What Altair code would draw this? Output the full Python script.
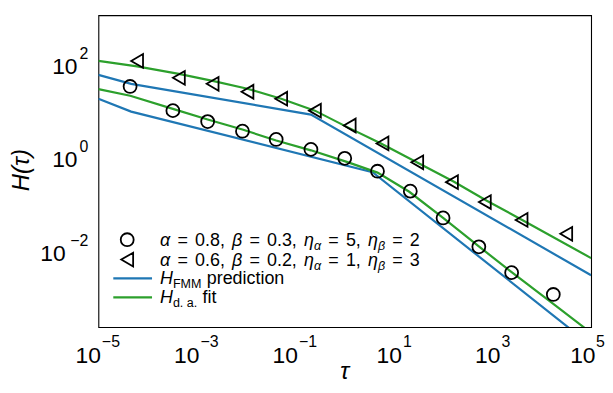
import altair as alt
import pandas as pd

# ---------------- data ----------------
CIRCLE_TAU = [4.4e-5, 3.25e-4, 1.65e-3, 8.4e-3, 4.06e-2, 0.206, 1.0, 4.62, 21.4, 99.0, 527.0, 2440.0, 17100.0]
CIRCLE_H = [29.8, 9.06, 5.28, 3.29, 2.19, 1.34, 0.863, 0.457, 0.171, 0.0457, 0.0110, 0.00308, 0.00105]

TRI_TAU = [6.1e-5, 4.3e-4, 2.08e-3, 1.06e-2, 5.13e-2, 0.248, 1.26, 5.83, 29.6, 150.0, 697.0, 3880.0, 31300.0]
TRI_H = [105.0, 45.7, 34.0, 23.0, 16.3, 9.06, 4.35, 1.80, 0.71, 0.267, 0.100, 0.0414, 0.0209]

FMM1_TAU = [1e-5, 4.62e-5, 3.67, 1e5]
FMM1_H = [16.3, 8.63, 0.435, 8.5e-5]
FMM2_TAU = [1e-5, 4.62e-5, 0.206, 1e5]
FMM2_H = [52.8, 34.0, 7.45, 2.71e-3]

DA1_TAU = [1e-5, 4.42e-5, 3.25e-4, 1.65e-3, 8.38e-3, 4.06e-2, 0.206, 1.10, 4.62, 20.4, 99.1, 527.0, 2440.0, 17100.0, 1e5]
DA1_H = [26.2, 18.9, 9.86, 5.83, 3.57, 2.08, 1.28, 0.724, 0.427, 0.166, 0.0457, 0.0112, 0.00316, 0.000661, 0.000158]
DA2_TAU = [1e-5, 6.11e-5, 4.30e-4, 2.08e-3, 1.06e-2, 5.13e-2, 0.248, 1.10, 5.32, 29.6, 165.0, 764.0, 4260.0, 1e5]
DA2_H = [105.0, 80.4, 55.6, 39.4, 26.7, 16.3, 9.06, 4.07, 1.82, 0.700, 0.272, 0.107, 0.0398, 0.00631]

X_TICKS = [1e-5, 1e-3, 1e-1, 1e1, 1e3, 1e5]
X_EXP = ["\u22125", "\u22123", "\u22121", "1", "3", "5"]
Y_TICKS = [1e2, 1e0, 1e-2]
Y_EXP = ["2", "0", "\u22122"]

ROW1 = ["\u03b1", "=", "0.8,", "\u03b2", "=", "0.3,", "\u03b7", "\u03b1", "=", "5,", "\u03b7", "\u03b2", "=", "2"]
ROW2 = ["\u03b1", "=", "0.6,", "\u03b2", "=", "0.2,", "\u03b7", "\u03b1", "=", "1,", "\u03b7", "\u03b2", "=", "3"]
ROW3 = ["H", "FMM", "prediction"]
ROW4 = ["H", "d. a.", "fit"]

# ---------------- styling ----------------
FONT = "Liberation Sans"
BLUE = "#1f77b4"
GREEN = "#2ca02c"
W, H = 496, 314
xs = alt.Scale(type="log", domain=[1e-5, 1e5], nice=False)
ys = alt.Scale(type="log", domain=[2.1e-4, 1e3], nice=False)

one = alt.Data(values=[{"k": 0}])


def frame(tau, h, name, kind):
    return pd.DataFrame({"tau": tau, "H": h, "series": name, "kind": kind})


lines_df = pd.concat([
    frame(FMM1_TAU, FMM1_H, "fmm1", "fmm"),
    frame(FMM2_TAU, FMM2_H, "fmm2", "fmm"),
    frame(DA1_TAU, DA1_H, "da1", "da"),
    frame(DA2_TAU, DA2_H, "da2", "da"),
])

lines = alt.Chart(lines_df).mark_line(strokeWidth=2.2, clip=True).encode(
    x=alt.X("tau:Q", scale=xs, axis=alt.Axis(values=X_TICKS, labels=False, title=None, tickSize=5,
                                               tickWidth=1, tickColor="black", domain=False, grid=False)),
    y=alt.Y("H:Q", scale=ys, axis=alt.Axis(values=Y_TICKS, labels=False, title=None, tickSize=5,
                                             tickWidth=1, tickColor="black", domain=False, grid=False)),
    color=alt.Color("kind:N", scale=alt.Scale(domain=["fmm", "da"], range=[BLUE, GREEN]), legend=None),
    detail="series:N",
)

circ = alt.Chart(pd.DataFrame({"tau": CIRCLE_TAU, "H": CIRCLE_H})).mark_point(
    shape="circle", filled=False, color="black", strokeWidth=1.8, size=170, clip=True, opacity=1
).encode(x=alt.X("tau:Q", scale=xs, axis=None), y=alt.Y("H:Q", scale=ys, axis=None))

tri = alt.Chart(pd.DataFrame({"tau": TRI_TAU, "H": TRI_H})).mark_point(
    shape="triangle-left", filled=False, color="black", strokeWidth=1.8, size=190, clip=True, opacity=1
).encode(x=alt.X("tau:Q", scale=xs, axis=None), y=alt.Y("H:Q", scale=ys, axis=None))


# ---------------- tick labels (10 with superscript) ----------------
def xlabels(sel, dx10, dxe):
    df = pd.DataFrame({"v": [X_TICKS[i] for i in sel], "e": [X_EXP[i] for i in sel]})
    base = alt.Chart(df)
    ten = base.mark_text(text="10", align="right", baseline="alphabetic", font=FONT, fontSize=23,
                         dx=dx10, color="black").encode(
        x=alt.X("v:Q", scale=xs, axis=None), y=alt.value(H + 36))
    sup = base.mark_text(align="left", baseline="alphabetic", font=FONT, fontSize=16,
                         dx=dxe, color="black").encode(
        x=alt.X("v:Q", scale=xs, axis=None), y=alt.value(H + 20), text="e:N")
    return [ten, sup]


def ylabels(sel, x10):
    df = pd.DataFrame({"v": [Y_TICKS[i] for i in sel], "e": [Y_EXP[i] for i in sel]})
    base = alt.Chart(df)
    ten = base.mark_text(text="10", align="right", baseline="alphabetic", font=FONT, fontSize=23,
                         dy=12, color="black").encode(
        y=alt.Y("v:Q", scale=ys, axis=None), x=alt.value(x10))
    sup = base.mark_text(align="right", baseline="alphabetic", font=FONT, fontSize=16,
                         dy=-3, color="black").encode(
        y=alt.Y("v:Q", scale=ys, axis=None), x=alt.value(-10), text="e:N")
    return [ten, sup]


tick_layers = (xlabels([0, 1, 2], 2.5, 3.5) + xlabels([3, 4], 8, 9) + xlabels([5], 4.5, 5)
               + ylabels([0, 1], -21) + ylabels([2], -33))


def txt(s, x, y, size, italic=False, align="left", angle=0):
    kw = dict(text=s, align=align, baseline="alphabetic", font=FONT, fontSize=size,
              fontStyle="italic" if italic else "normal", color="black")
    if angle:
        kw["angle"] = angle
    return alt.Chart(one).mark_text(**kw).encode(x=alt.value(x), y=alt.value(y))


titles = [
    txt("\u03c4", W / 2, H + 52, 24, italic=True, align="center"),
    txt("H(\u03c4)", -70, H / 2 - 1, 24, italic=True, align="center", angle=270),
]

# ---------------- legend ----------------
EMW = {" ": .278, "=": .584, ".": .278, ",": .278, "\u03b1": .579, "\u03b2": .569, "\u03b7": .556,
       "H": .722, "F": .611, "M": .833, "d": .556, "a": .556}
FS = 18
SUB = 0.7


def width(s, size):
    return sum(EMW.get(c, .556) for c in s) * size


def row(tokens, styles, gaps, x0, base):
    out = []
    x = x0
    for t, st, g in zip(tokens, styles, gaps):
        x += g * FS
        size = FS * SUB if "s" in st else FS
        y = base + 4 if "s" in st else base
        out.append(txt(t, x, y, size, italic="i" in st))
        x += width(t, size)
    return out


MST = ["i", "n", "n", "i", "n", "n", "i", "si", "n", "n", "i", "si", "n", "n"]
MGP = [0, .4, .4, .4, .4, .4, .4, 0, .4, .4, .4, 0, .4, .4]
X0 = 62
legend = []
legend += row(ROW1, MST, MGP, X0, 232)
legend += row(ROW2, MST, MGP, X0, 252)
legend += row(ROW3, ["i", "s", "n"], [0, 0, .3], X0, 271)
legend += row(ROW4, ["i", "s", "n"], [0, 0, .3], X0, 290)
legend += [
    alt.Chart(one).mark_point(shape="circle", filled=False, color="black", strokeWidth=1.8, size=170,
                              opacity=1).encode(x=alt.value(29), y=alt.value(226)),
    alt.Chart(one).mark_point(shape="triangle-left", filled=False, color="black", strokeWidth=1.8,
                              size=190, opacity=1).encode(x=alt.value(29), y=alt.value(246)),
    alt.Chart(one).mark_rule(color=BLUE, strokeWidth=2.2).encode(
        x=alt.value(15), x2=alt.value(54), y=alt.value(265)),
    alt.Chart(one).mark_rule(color=GREEN, strokeWidth=2.2).encode(
        x=alt.value(15), x2=alt.value(54), y=alt.value(284)),
]

chart = alt.layer(lines, circ, tri, *tick_layers, *titles, *legend).properties(
    width=W, height=H,
    autosize=alt.AutoSizeParams(type="none"),
    padding={"left": 91, "top": 6, "right": 14, "bottom": 57},
).configure_view(stroke="black", strokeWidth=1.1).configure_axis(grid=False)

chart.save("out.html", embed_options={"renderer": "svg", "actions": False})
